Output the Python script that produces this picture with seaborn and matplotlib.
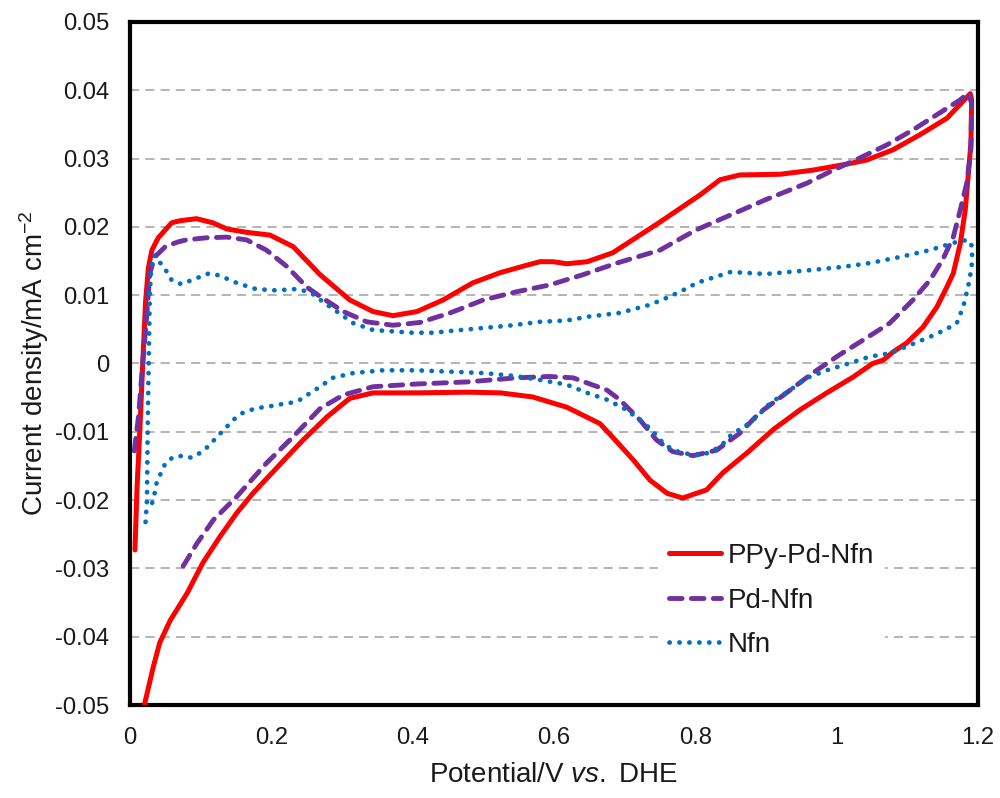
import matplotlib
matplotlib.use("Agg")
import matplotlib.pyplot as plt
import seaborn as sns
import pandas as pd
import numpy as np

# ---------------- data ----------------
ppy_x = [0.007, 0.010, 0.014, 0.018, 0.022, 0.026, 0.031, 0.040, 0.059, 0.071, 0.094, 0.117,
         0.137, 0.165, 0.198, 0.231, 0.269, 0.311, 0.344, 0.372, 0.406, 0.443, 0.485, 0.524,
         0.562, 0.580, 0.599, 0.618, 0.647, 0.683, 0.750, 0.807, 0.835, 0.863, 0.920, 0.966,
         1.015, 1.043, 1.080, 1.118, 1.156, 1.189,
         1.191, 1.190, 1.186, 1.182, 1.175, 1.165, 1.156, 1.142, 1.122, 1.099, 1.080,
         1.066, 1.051, 1.023, 0.986, 0.948, 0.910, 0.873, 0.839, 0.816, 0.782, 0.760, 0.736,
         0.712, 0.683, 0.665, 0.618, 0.570, 0.524, 0.477, 0.406, 0.344, 0.311, 0.279, 0.245,
         0.222, 0.174, 0.151, 0.127, 0.103, 0.081, 0.057, 0.042, 0.033, 0.021, 0.018]
ppy_y = [-0.0273, -0.0180, -0.0097, 0.0000, 0.0090, 0.0140, 0.0166, 0.0184, 0.0206, 0.0209, 0.0212, 0.0206,
         0.0197, 0.0192, 0.0188, 0.0171, 0.0130, 0.0093, 0.0076, 0.0070, 0.0076, 0.0093, 0.0118, 0.0133,
         0.0144, 0.0149, 0.0149, 0.0146, 0.0149, 0.0162, 0.0207, 0.0247, 0.0269, 0.0276, 0.0277, 0.0283,
         0.0292, 0.0298, 0.0313, 0.0335, 0.0359, 0.0395,
         0.0386, 0.0323, 0.0273, 0.0225, 0.0176, 0.0132, 0.0112, 0.0083, 0.0053, 0.0030, 0.0017,
         0.0005, 0.0000, -0.0020, -0.0043, -0.0068, -0.0097, -0.0131, -0.0160, -0.0185, -0.0197, -0.0190, -0.0171,
         -0.0141, -0.0108, -0.0088, -0.0064, -0.0049, -0.0043, -0.0042, -0.0043, -0.0043, -0.0051, -0.0078, -0.0112,
         -0.0137, -0.0190, -0.0219, -0.0254, -0.0292, -0.0336, -0.0376, -0.0409, -0.0444, -0.0497, -0.0530]

pd_x = [0.006, 0.012, 0.018, 0.024, 0.028, 0.035, 0.050, 0.068, 0.080, 0.108, 0.137, 0.165,
        0.193, 0.222, 0.250, 0.269, 0.302, 0.335, 0.372, 0.410, 0.453, 0.500, 0.547, 0.594,
        0.641, 0.689, 0.750, 0.800, 0.900, 0.958, 0.995, 1.033, 1.071, 1.108, 1.146, 1.175, 1.186,
        1.191, 1.190, 1.184, 1.175, 1.165, 1.150, 1.132, 1.108, 1.075, 1.037, 1.003,
        0.966, 0.929, 0.891, 0.863, 0.830, 0.797, 0.768, 0.745, 0.722, 0.693, 0.675,
        0.627, 0.594, 0.547, 0.477, 0.406, 0.344, 0.302, 0.269, 0.231, 0.193, 0.151,
        0.118, 0.095, 0.075]
pd_y = [-0.0128, -0.0078, 0.0000, 0.0074, 0.0132, 0.0156, 0.0171, 0.0178, 0.0181, 0.0184, 0.0185, 0.0181,
        0.0166, 0.0142, 0.0112, 0.0098, 0.0076, 0.0061, 0.0056, 0.0060, 0.0074, 0.0093, 0.0105, 0.0115,
        0.0130, 0.0147, 0.0166, 0.0195, 0.0240, 0.0264, 0.0283, 0.0301, 0.0320, 0.0342, 0.0367, 0.0386, 0.0396,
        0.0381, 0.0313, 0.0264, 0.0225, 0.0185, 0.0152, 0.0122, 0.0093, 0.0059, 0.0034, 0.0012,
        -0.0014, -0.0043, -0.0072, -0.0102, -0.0127, -0.0135, -0.0129, -0.0112, -0.0083, -0.0053, -0.0039,
        -0.0021, -0.0019, -0.0021, -0.0027, -0.0030, -0.0034, -0.0046, -0.0066, -0.0107, -0.0146, -0.0195,
        -0.0229, -0.0263, -0.0297]

nfn_x = [0.022, 0.024, 0.025, 0.0264, 0.028, 0.030, 0.033, 0.037, 0.040, 0.047, 0.059, 0.073,
         0.087, 0.112, 0.126, 0.151, 0.178, 0.207, 0.235, 0.248, 0.262, 0.273, 0.293, 0.316,
         0.344, 0.372, 0.400, 0.429, 0.457, 0.500, 0.542, 0.580, 0.618, 0.651, 0.693, 0.736,
         0.764, 0.788, 0.802, 0.850, 0.900, 0.966, 1.005, 1.047, 1.090, 1.132, 1.170, 1.186,
         1.192, 1.191, 1.186, 1.179, 1.170, 1.153, 1.132, 1.104, 1.075, 1.047, 1.023,
         0.986, 0.958, 0.934, 0.906, 0.887, 0.868, 0.853, 0.835, 0.811, 0.788, 0.768, 0.750,
         0.736, 0.703, 0.675, 0.647, 0.618, 0.580, 0.542, 0.500, 0.453, 0.406, 0.358, 0.316,
         0.287, 0.266, 0.255, 0.243, 0.231, 0.217, 0.202, 0.188, 0.174, 0.160, 0.149, 0.130,
         0.120, 0.110, 0.099, 0.087, 0.075, 0.061, 0.050, 0.045, 0.038, 0.033, 0.028]
nfn_y = [-0.0232, -0.0200, -0.0100, 0.0000, 0.0100, 0.0140, 0.0158, 0.0157, 0.0150, 0.0143, 0.0122, 0.0116,
         0.0122, 0.0132, 0.0129, 0.0118, 0.0109, 0.0107, 0.0109, 0.0106, 0.0100, 0.0090, 0.0076, 0.0059,
         0.0049, 0.0047, 0.0045, 0.0045, 0.0048, 0.0052, 0.0056, 0.0061, 0.0063, 0.0069, 0.0074, 0.0086,
         0.0098, 0.0110, 0.0118, 0.0134, 0.0131, 0.0137, 0.0141, 0.0147, 0.0156, 0.0166, 0.0178, 0.0181,
         0.0171, 0.0141, 0.0112, 0.0083, 0.0059, 0.0049, 0.0039, 0.0027, 0.0015, 0.0010, 0.0002,
         -0.0010, -0.0021, -0.0039, -0.0058, -0.0078, -0.0094, -0.0102, -0.0122, -0.0134, -0.0132, -0.0127, -0.0112,
         -0.0095, -0.0068, -0.0053, -0.0043, -0.0031, -0.0024, -0.0018, -0.0014, -0.0012, -0.0010, -0.0010, -0.0014,
         -0.0021, -0.0036, -0.0043, -0.0052, -0.0057, -0.0059, -0.0062, -0.0064, -0.0067, -0.0072, -0.0080, -0.0100,
         -0.0111, -0.0122, -0.0131, -0.0138, -0.0135, -0.0137, -0.0146, -0.0158, -0.0173, -0.0200, -0.0212]

series_names = ["PPy-Pd-Nfn", "Pd-Nfn", "Nfn"]
x_ticks = [0, 0.2, 0.4, 0.6, 0.8, 1.0, 1.2]
x_tick_labels = ["0", "0.2", "0.4", "0.6", "0.8", "1", "1.2"]
y_ticks = [0.05, 0.04, 0.03, 0.02, 0.01, 0, -0.01, -0.02, -0.03, -0.04, -0.05]
y_tick_labels = ["0.05", "0.04", "0.03", "0.02", "0.01", "0", "-0.01", "-0.02", "-0.03", "-0.04", "-0.05"]

# ---------------- style ----------------
sns.set_theme(style="white")
plt.rcParams["font.family"] = ["Liberation Sans", "DejaVu Sans"]
plt.rcParams["mathtext.fontset"] = "custom"
plt.rcParams["mathtext.rm"] = "Liberation Sans"
plt.rcParams["mathtext.it"] = "Liberation Sans:italic"

frames = []
for name, xs, ys in [(series_names[0], ppy_x, ppy_y),
                     (series_names[1], pd_x, pd_y),
                     (series_names[2], nfn_x, nfn_y)]:
    frames.append(pd.DataFrame({"E": xs, "j": ys, "sample": name,
                                "order": np.arange(len(xs))}))
df = pd.concat(frames, ignore_index=True)

fig = plt.figure(figsize=(10, 7.98), dpi=100)
ax = fig.add_axes([0.13, 0.1165, 0.848, 0.856])

palette = {"PPy-Pd-Nfn": "#FF0000", "Pd-Nfn": "#7030A0", "Nfn": "#0070C0"}
styles = {"PPy-Pd-Nfn": dict(ls="-", lw=3.6),
          "Pd-Nfn": dict(ls=(0, (2.6, 1.9)), lw=3.5),
          "Nfn": dict(ls=(0, (0.05, 2.05)), lw=3.4)}

for name in series_names:
    sub = df[df["sample"] == name]
    sns.lineplot(data=sub, x="E", y="j", ax=ax, sort=False, estimator=None,
                 color=palette[name], label=name)
for line, name in zip(ax.get_lines(), series_names):
    line.set_linestyle(styles[name]["ls"])
    line.set_linewidth(styles[name]["lw"])
    line.set_dash_capstyle("round")
    line.set_solid_capstyle("round")
    line.set_solid_joinstyle("round")
    line.set_dash_joinstyle("round")
    line.set_zorder(3)

ax.set_xlim(0, 1.2)
ax.set_ylim(-0.05, 0.05)
ax.set_xticks(x_ticks)
ax.set_xticklabels(x_tick_labels)
ax.set_yticks(y_ticks)
ax.set_yticklabels(y_tick_labels)
ax.tick_params(direction="in", length=6, width=2.5, labelsize=17.2,
               colors="black", labelcolor="#1a1a1a")
ax.tick_params(axis="x", pad=16)
ax.tick_params(axis="y", pad=15)

for y in y_ticks[1:-1]:
    ax.axhline(y, color="#a0a0a0", lw=1.1, ls=(0, (6, 4)), zorder=1)

for sp in ax.spines.values():
    sp.set_visible(True)
    sp.set_linewidth(3.0)
    sp.set_color("black")

ax.set_xlabel(r"Potential/V $\it{vs.}$ DHE", fontsize=20, labelpad=9, color="#1a1a1a")
ax.set_ylabel(r"Current density/mA cm$^{-2}$", fontsize=20, labelpad=3, color="#1a1a1a")

leg = ax.legend(loc="center left", bbox_to_anchor=(0.623, 0.153), fontsize=20,
                frameon=True, handlelength=1.85, handletextpad=0.25, labelspacing=0.66,
                borderaxespad=0, borderpad=0.4)
leg.get_frame().set_edgecolor("none")
leg.get_frame().set_facecolor("white")
leg.get_frame().set_alpha(1.0)
for t in leg.get_texts():
    t.set_color("#1a1a1a")

fig.savefig("out.png", dpi=100)
